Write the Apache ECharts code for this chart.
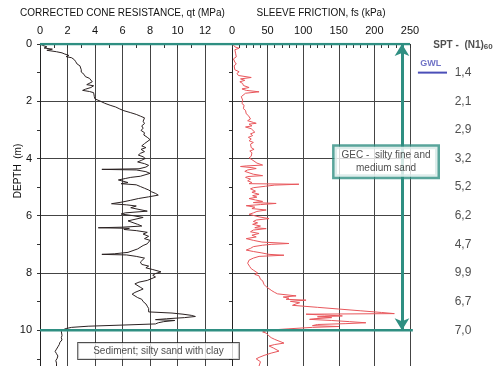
<!DOCTYPE html>
<html>
<head>
<meta charset="utf-8">
<script src="https://cdn.jsdelivr.net/npm/echarts/dist/echarts.min.js"></script>
<style>
  html, body { margin: 0; padding: 0; background: #fff; }
  #chart { width: 502px; height: 366px; }
</style>
</head>
<body>
<div id="chart"></div>
<script>
// CPT profile: cone resistance qt (MPa) and sleeve friction fs (kPa) vs depth (m)
const qtDepth = [0.00, 0.05, 0.10, 0.14, 0.18, 0.22, 0.27, 0.31, 0.35, 0.40, 0.44, 0.48, 0.55, 0.62, 0.70, 0.76,
  0.82, 0.90, 0.98, 1.06, 1.14, 1.20, 1.26, 1.32, 1.37, 1.42, 1.46, 1.52, 1.58, 1.62, 1.66, 1.70, 1.76, 1.84,
  1.92, 2.00, 2.07, 2.14, 2.20, 2.27, 2.33, 2.40, 2.46, 2.52, 2.58, 2.64, 2.70, 2.78, 2.86, 2.94, 3.02, 3.10,
  3.18, 3.26, 3.34, 3.40, 3.48, 3.56, 3.62, 3.68, 3.76, 3.82, 3.88, 3.94, 4.00, 4.06, 4.12, 4.18, 4.24, 4.30,
  4.36, 4.38, 4.40, 4.46, 4.52, 4.58, 4.62, 4.66, 4.70, 4.75, 4.80, 4.84, 4.88, 4.92, 4.98, 5.04, 5.10, 5.16,
  5.22, 5.28, 5.34, 5.40, 5.46, 5.52, 5.58, 5.62, 5.66, 5.72, 5.78, 5.84, 5.90, 5.94, 6.00, 6.06, 6.12, 6.18,
  6.24, 6.30, 6.36, 6.40, 6.42, 6.44, 6.48, 6.52, 6.58, 6.64, 6.72, 6.80, 6.86, 6.92, 6.98, 7.04, 7.10, 7.16,
  7.22, 7.28, 7.33, 7.35, 7.37, 7.42, 7.48, 7.54, 7.62, 7.70, 7.76, 7.82, 7.88, 7.96, 8.02, 8.08, 8.14, 8.20,
  8.26, 8.32, 8.38, 8.44, 8.50, 8.56, 8.62, 8.68, 8.74, 8.80, 8.86, 8.92, 9.00, 9.08, 9.16, 9.24, 9.30, 9.36,
  9.40, 9.44, 9.48, 9.52, 9.56, 9.60, 9.63, 9.66, 9.70, 9.74, 9.78, 9.82, 9.86, 9.90, 9.94, 9.98, 10.04, 10.10,
  10.18, 10.26, 10.34, 10.42, 10.50, 10.58, 10.66, 10.74, 10.82, 10.90, 10.98, 11.06, 11.15, 11.25];
const qtValue = [0.0, 0.2, 0.5, 0.3, 0.9, 0.5, 1.2, 1.6, 1.8, 2.1, 1.9, 2.3, 2.5, 2.6, 2.7, 2.9,
  2.8, 3.0, 3.0, 3.2, 3.3, 3.6, 3.5, 3.8, 3.7, 3.4, 3.9, 3.7, 3.3, 3.1, 3.6, 3.9, 3.9, 3.95,
  4.0, 4.4, 4.7, 5.1, 5.5, 5.8, 6.1, 6.6, 7.0, 7.3, 7.6, 7.7, 7.5, 7.6, 7.4, 7.5, 7.35, 7.6,
  7.55, 7.8, 8.0, 7.9, 7.6, 7.4, 7.7, 7.35, 7.6, 7.3, 7.15, 7.5, 7.65, 7.4, 7.1, 7.6, 7.9, 7.7,
  7.2, 4.5, 7.0, 7.7, 8.0, 8.0, 7.3, 6.6, 6.2, 5.7, 5.6, 6.4, 5.9, 7.0, 7.3, 7.6, 7.9, 8.1,
  8.4, 8.6, 7.9, 7.15, 6.6, 6.0, 5.2, 6.3, 7.0, 6.6, 7.2, 7.8, 6.2, 5.9, 6.8, 7.5, 7.6, 6.4,
  6.3, 7.1, 7.4, 6.0, 4.24, 6.5, 6.1, 7.0, 7.8, 7.5, 7.9, 7.6, 8.0, 8.1, 7.8, 7.5, 7.4, 7.1,
  7.0, 6.4, 5.4, 4.5, 6.3, 7.0, 7.6, 7.5, 7.3, 7.4, 7.9, 7.7, 8.2, 8.8, 8.4, 8.2, 8.4, 8.3,
  7.8, 7.2, 6.9, 6.9, 7.3, 7.5, 7.2, 6.9, 6.7, 6.8, 7.1, 7.4, 7.5, 7.7, 7.8, 7.9, 7.9, 7.9,
  9.6, 10.4, 11.0, 11.3, 10.5, 9.2, 8.4, 9.8, 9.0, 8.6, 8.4, 6.0, 3.5, 2.3, 1.9, 1.7, 1.55, 1.5,
  1.6, 1.55, 1.6, 1.45, 1.4, 1.3, 1.2, 1.1, 1.2, 1.3, 1.25, 1.15, 1.2, 1.2];

const fsDepth = [0.00, 0.05, 0.10, 0.15, 0.20, 0.25, 0.32, 0.38, 0.45, 0.52, 0.57, 0.63, 0.70, 0.76, 0.82, 0.90,
  0.97, 1.03, 1.10, 1.17, 1.22, 1.27, 1.32, 1.38, 1.45, 1.52, 1.57, 1.62, 1.67, 1.72, 1.78, 1.84, 1.90, 1.96,
  2.02, 2.08, 2.14, 2.20, 2.26, 2.32, 2.38, 2.44, 2.50, 2.56, 2.62, 2.68, 2.74, 2.77, 2.80, 2.86, 2.90, 2.96,
  3.02, 3.08, 3.14, 3.20, 3.26, 3.32, 3.38, 3.44, 3.50, 3.56, 3.62, 3.68, 3.74, 3.80, 3.86, 3.92, 3.98, 4.04,
  4.10, 4.16, 4.23, 4.26, 4.28, 4.32, 4.35, 4.40, 4.45, 4.50, 4.55, 4.60, 4.63, 4.66, 4.72, 4.78, 4.84, 4.88,
  4.90, 4.93, 4.97, 5.02, 5.06, 5.10, 5.14, 5.18, 5.25, 5.30, 5.35, 5.40, 5.45, 5.50, 5.54, 5.57, 5.61, 5.65,
  5.70, 5.75, 5.80, 5.85, 5.90, 5.95, 5.99, 6.04, 6.10, 6.15, 6.20, 6.25, 6.30, 6.36, 6.42, 6.45, 6.50, 6.56,
  6.62, 6.68, 6.74, 6.80, 6.86, 6.92, 6.97, 7.00, 7.03, 7.08, 7.14, 7.20, 7.25, 7.30, 7.35, 7.38, 7.42, 7.48,
  7.55, 7.60, 7.66, 7.72, 7.78, 7.85, 7.90, 7.95, 8.00, 8.05, 8.10, 8.16, 8.22, 8.27, 8.33, 8.40, 8.48, 8.55,
  8.62, 8.68, 8.73, 8.77, 8.80, 8.84, 8.88, 8.92, 8.95, 8.99, 9.04, 9.08, 9.13, 9.20, 9.26, 9.32, 9.38, 9.42,
  9.44, 9.47, 9.50, 9.53, 9.56, 9.60, 9.62, 9.66, 9.70, 9.74, 9.77, 9.80, 9.84, 9.87, 9.90, 9.95, 10.00, 10.06,
  10.10, 10.16, 10.20, 10.26, 10.32, 10.38, 10.45, 10.50, 10.55, 10.62, 10.68, 10.73, 10.80, 10.88, 10.95, 11.00,
  11.10, 11.25];
const fsValue = [1, 2, 4, 10, 4, 3, 5, 3, 6, 2, 1, 4, 6, 3, 5, 4,
  10, 7, 9, 27, 12, 18, 11, 15, 16, 24, 14, 20, 38, 19, 17, 13, 12, 15,
  13, 14, 17, 15, 16, 19, 21, 20, 23, 21, 26, 22, 30, 34, 24, 28, 19, 27,
  25, 32, 26, 29, 23, 27, 24, 30, 26, 28, 27, 31, 25, 28, 26, 27, 24, 28,
  30, 35, 43, 20, 12, 28, 34, 22, 18, 16, 30, 43, 22, 19, 26, 22, 28, 24,
  94, 60, 47, 30, 26, 24, 33, 28, 38, 29, 35, 24, 33, 43, 30, 62, 40, 20,
  32, 28, 48, 35, 30, 24, 24, 38, 52, 34, 30, 36, 29, 40, 32, 48, 30, 26,
  38, 28, 34, 20, 30, 42, 80, 55, 43, 30, 26, 20, 30, 42, 52, 73, 38, 30,
  24, 26, 22, 24, 25, 27, 30, 28, 36, 32, 38, 36, 40, 43, 42, 45, 48, 52,
  56, 60, 64, 66, 90, 72, 80, 76, 104, 82, 95, 90, 85, 120, 150, 180, 210, 228,
  104, 130, 155, 120, 140, 115, 109, 140, 165, 188, 160, 120, 113, 150, 113, 80, 50, 43,
  48, 46, 52, 55, 60, 58, 73, 60, 52, 58, 60, 66, 55, 45, 38, 34,
  40, 38];

// layer boundaries and SPT blow counts
const layerDepths = [0, 10];
const sptDepths = [1, 2, 3, 4, 5, 6, 7, 8, 9, 10];
const sptValues = ['1,4', '2,1', '2,9', '3,2', '5,2', '6,2', '4,7', '9,9', '6,7', '7,0'];
const gwlDepth = 1.0;

const qtData = qtDepth.map((d, i) => [qtValue[i], d]);
const fsData = fsDepth.map((d, i) => [fsValue[i], d]);

const FONT = '"Liberation Sans", Arial, sans-serif';
const TEAL = '#2f8f82';
const GRIDC = '#444';
const DMAX = 11.25;

const chart = echarts.init(document.getElementById('chart'), null, { renderer: 'canvas' });

function depthAxis(gridIndex, labels) {
  return {
    type: 'value', gridIndex, inverse: true, min: 0, max: DMAX, interval: 2,
    axisLine: { show: true, lineStyle: { color: '#222', width: 1 } },
    axisTick: { show: true, length: 3, lineStyle: { color: '#333' } },
    minorTick: { show: true, splitNumber: 2, length: 3, lineStyle: { color: '#333' } },
    splitLine: { show: true, lineStyle: { color: GRIDC, width: 1 } },
    axisLabel: { show: labels, margin: 8, color: '#111', fontSize: 11, fontFamily: FONT, showMaxLabel: false },
    name: labels ? 'DEPTH  (m)' : '',
    nameLocation: 'middle', nameGap: 17, nameRotate: 90, nameMoveOverlap: false,
    nameTextStyle: { color: '#111', fontSize: 10, fontFamily: FONT, padding: [0, 0, 0, 68] }
  };
}

function topAxis(gridIndex, max, interval, minor, name) {
  return {
    type: 'value', gridIndex, position: 'top', min: 0, max, interval,
    axisLine: { show: false },
    axisTick: { show: true, inside: true, length: 4, lineStyle: { color: '#333' } },
    minorTick: { show: true, splitNumber: minor, length: 4, lineStyle: { color: '#333' } },
    splitLine: { show: true, lineStyle: { color: GRIDC, width: 1 } },
    axisLabel: { margin: 8, color: '#111', fontSize: 11, fontFamily: FONT },
    name, nameLocation: 'middle', nameGap: 26,
    nameTextStyle: { color: '#111', fontSize: 10, fontFamily: FONT }
  };
}

const option = {
  backgroundColor: '#fff',
  animation: false,
  grid: [
    { left: 40, width: 165, top: 44, bottom: 0, outerBoundsMode: 'none' },
    { left: 232, width: 178, top: 44, bottom: 0, outerBoundsMode: 'none' },
    { left: 40, right: 0, top: 44, bottom: 0, outerBoundsMode: 'none' }
  ],
  xAxis: [
    topAxis(0, 12, 2, 2, 'CORRECTED CONE RESISTANCE, qt (MPa)'),
    topAxis(1, 250, 50, 5, 'SLEEVE FRICTION, fs (kPa)'),
    { type: 'value', gridIndex: 2, min: 0, max: 1, show: false }
  ],
  yAxis: [
    depthAxis(0, true),
    depthAxis(1, false),
    { type: 'value', gridIndex: 2, inverse: true, min: 0, max: DMAX, show: false }
  ],
  series: [
    {
      type: 'line', xAxisIndex: 0, yAxisIndex: 0, data: qtData,
      showSymbol: false, lineStyle: { color: '#2b2222', width: 1 }, z: 3
    },
    {
      type: 'line', xAxisIndex: 1, yAxisIndex: 1, data: fsData,
      showSymbol: false, lineStyle: { color: '#e8575c', width: 1 }, z: 3
    },
    // teal layer boundaries + double arrow
    {
      type: 'line', xAxisIndex: 2, yAxisIndex: 2, z: 4,
      data: [[0, layerDepths[0]], [0.801, layerDepths[0]], ['-', '-'], [0, layerDepths[1]], [0.807, layerDepths[1]]],
      showSymbol: false, lineStyle: { color: TEAL, width: 2.5 },
      markLine: {
        silent: true, symbol: ['arrow', 'arrow'], symbolSize: [11, 12],
        label: { show: false },
        lineStyle: { color: TEAL, width: 3, type: 'solid' },
        data: [[{ coord: [0.7835, layerDepths[0]] }, { coord: [0.7835, layerDepths[1]] }]]
      }
    },
    // GWL marker line
    {
      type: 'line', xAxisIndex: 2, yAxisIndex: 2, z: 4,
      data: [[0.818, gwlDepth], [0.881, gwlDepth]],
      showSymbol: false, lineStyle: { color: '#4b4fb8', width: 2 }
    },
    // annotations
    {
      type: 'scatter', xAxisIndex: 2, yAxisIndex: 2, symbolSize: 0, z: 6, clip: false,
      data: [
        { value: [0.749, 4.11], label: {
          formatter: 'GEC -  silty fine and\nmedium sand', fontSize: 10, lineHeight: 13,
          backgroundColor: '#fff', borderColor: TEAL, borderWidth: 2.5, padding: [2, 7] } },
        { value: [0.2565, 10.73], label: {
          formatter: 'Sediment; silty sand with clay', fontSize: 10, lineHeight: 12,
          backgroundColor: '#fff', borderColor: '#222', borderWidth: 1, padding: [2, 15] } },
        { value: [0.846, 0.67], label: {
          formatter: 'GWL', fontSize: 9, fontWeight: 'bold', color: '#4b4fb8' } },
        { value: [0.9156, 0.03], label: {
          formatter: '{a|SPT -  (N1)}{b|60}',
          rich: {
            a: { fontSize: 10, fontWeight: 'bold', fontFamily: FONT, color: '#222' },
            b: { fontSize: 8, fontWeight: 'bold', fontFamily: FONT, color: '#222', padding: [4, 0, 0, 0] }
          } } }
      ].concat(sptDepths.map((d, i) => ({
        value: [0.9156, d], label: { formatter: sptValues[i], fontSize: 12 }
      }))),
      label: { show: true, position: 'inside', color: '#222', fontFamily: FONT, align: 'center' }
    }
  ]
};

chart.setOption(option);
</script>
</body>
</html>
